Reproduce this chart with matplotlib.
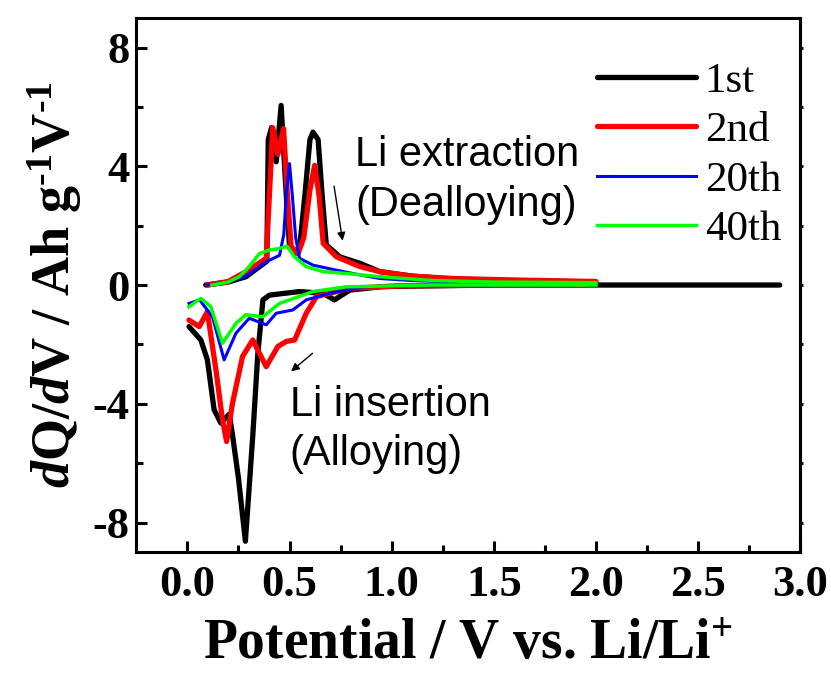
import matplotlib
matplotlib.use("Agg")
import matplotlib.pyplot as plt

plt.rcParams['axes.unicode_minus'] = False
plt.rcParams['mathtext.fontset'] = 'custom'
plt.rcParams['mathtext.rm'] = 'Liberation Serif:bold'
plt.rcParams['mathtext.bf'] = 'Liberation Serif:bold'
plt.rcParams['mathtext.it'] = 'Liberation Serif:italic:bold'

# charge (Li extraction) branches
x1_chg = [0.09, 0.20, 0.287, 0.353, 0.389, 0.396, 0.412, 0.435, 0.459, 0.48, 0.50, 0.525, 0.55, 0.575, 0.60,
          0.615, 0.64, 0.66, 0.68, 0.746, 0.845, 0.943, 1.1, 1.3, 1.6, 2.0]
y1_chg = [0.0, 0.1, 0.28, 0.62, 0.8, 4.9, 5.3, 4.15, 6.05, 3.5, 1.3, 1.05, 1.3, 3.0, 4.9,
          5.15, 4.9, 3.0, 1.35, 0.95, 0.73, 0.45, 0.3, 0.2, 0.15, 0.1]
x2_chg = [0.10, 0.20, 0.287, 0.353, 0.386, 0.405, 0.418, 0.443, 0.471, 0.49, 0.508, 0.542, 0.57, 0.60,
          0.623, 0.645, 0.665, 0.73, 0.845, 0.943, 1.1, 1.3, 1.6, 2.0]
y2_chg = [0.0, 0.12, 0.45, 0.75, 0.9, 3.5, 5.3, 4.4, 5.27, 3.0, 1.3, 1.06, 1.6, 3.2,
          4.03, 3.0, 1.4, 0.95, 0.62, 0.45, 0.3, 0.22, 0.17, 0.12]
x20_chg = [0.10, 0.20, 0.287, 0.386, 0.451, 0.472, 0.486, 0.50, 0.514, 0.53, 0.549, 0.615, 0.73, 0.845,
           0.943, 1.1, 1.4, 1.9]
y20_chg = [0.0, 0.1, 0.3, 0.78, 1.0, 1.7, 3.2, 4.09, 3.0, 1.6, 0.9, 0.67, 0.5, 0.34,
           0.22, 0.15, 0.08, 0.05]
x40_chg = [0.12, 0.20, 0.254, 0.30, 0.353, 0.402, 0.451, 0.487, 0.525, 0.582, 0.664, 0.779, 0.943, 1.2, 1.5, 2.0]
y40_chg = [0.0, 0.1, 0.28, 0.6, 1.06, 1.18, 1.23, 1.31, 0.95, 0.62, 0.45, 0.39, 0.28, 0.15, 0.1, 0.08]

# discharge (Li insertion) branches
x1_dis = [0.008, 0.066, 0.098, 0.131, 0.164, 0.205, 0.22, 0.25, 0.284, 0.32, 0.345, 0.37, 0.402, 0.549,
          0.664, 0.72, 0.795, 0.96, 1.5, 2.0, 2.9]
y1_dis = [-1.4, -1.85, -2.52, -4.2, -4.65, -4.35, -5.0, -6.5, -8.63, -5.1, -2.3, -0.5, -0.34, -0.22,
          -0.28, -0.5, -0.17, -0.05, 0.0, 0.0, 0.0]
x2_dis = [0.008, 0.058, 0.098, 0.14, 0.172, 0.192, 0.221, 0.27, 0.32, 0.386, 0.443, 0.484, 0.525, 0.582,
          0.632, 0.795, 1.04, 1.5, 1.95]
y2_dis = [-1.18, -1.4, -0.9, -2.86, -4.54, -5.27, -3.98, -2.41, -1.85, -2.75, -2.07, -1.9, -1.85, -0.95,
          -0.39, -0.11, -0.03, 0.0, 0.0]
x20_dis = [0.008, 0.06, 0.123, 0.18, 0.238, 0.303, 0.386, 0.435, 0.516, 0.582, 0.697, 0.86, 1.2, 1.9]
y20_dis = [-0.62, -0.5, -1.07, -2.52, -1.62, -1.12, -1.34, -0.95, -0.84, -0.5, -0.28, -0.06, 0.0, 0.0]
x40_dis = [0.008, 0.066, 0.115, 0.172, 0.238, 0.287, 0.369, 0.451, 0.615, 0.779, 1.2, 2.0]
y40_dis = [-0.73, -0.45, -0.73, -1.96, -1.29, -1.0, -1.07, -0.62, -0.22, -0.06, 0.0, 0.0]

labels = ['1st', '2nd', '20th', '40th']
xticks = [0.0, 0.5, 1.0, 1.5, 2.0, 2.5, 3.0]
yticks = [-8, -4, 0, 4, 8]

fig = plt.figure(figsize=(8.31, 6.86), dpi=100)
ax = fig.add_axes([0.164, 0.195, 0.799, 0.779])

# black / red / blue / green cycles
ax.plot(x1_dis, y1_dis, color='black', lw=3.8, solid_capstyle='round', solid_joinstyle='round')
ax.plot(x1_chg, y1_chg, color='black', lw=3.8, label=labels[0], solid_capstyle='round', solid_joinstyle='round')
ax.plot(x2_dis, y2_dis, color='#ff0000', lw=3.8, solid_capstyle='round', solid_joinstyle='round')
ax.plot(x2_chg, y2_chg, color='#ff0000', lw=3.8, label=labels[1], solid_capstyle='round', solid_joinstyle='round')
ax.plot(x20_dis, y20_dis, color='#0000ff', lw=2.2, solid_joinstyle='round')
ax.plot(x20_chg, y20_chg, color='#0000ff', lw=2.2, label=labels[2], solid_joinstyle='round')
ax.plot(x40_dis, y40_dis, color='#00ff00', lw=2.5, solid_joinstyle='round')
ax.plot(x40_chg, y40_chg, color='#00ff00', lw=2.5, label=labels[3], solid_joinstyle='round')

ax.set_xlim(-0.25, 3.0)
ax.set_ylim(-9, 9)
ax.set_xticks(xticks)
ax.set_xticklabels([f"{t:.1f}" for t in xticks])
ax.set_yticks(yticks)
ax.set_yticklabels([str(t) for t in yticks])
ax.set_xticks([0.25, 0.75, 1.25, 1.75, 2.25, 2.75], minor=True)
ax.set_yticks([-6, -2, 2, 6], minor=True)

for s in ax.spines.values():
    s.set_linewidth(2.2)
ax.tick_params(which='major', direction='in', length=8, width=2.2, top=False, right=False)
ax.tick_params(which='minor', direction='in', length=5, width=2.2, top=False, right=False)
for lab in ax.get_xticklabels() + ax.get_yticklabels():
    lab.set_fontfamily('Liberation Serif')
    lab.set_fontweight('bold')
    lab.set_fontsize(32)
ax.tick_params(axis='x', pad=9)
ax.tick_params(axis='y', pad=5)

# tiny marks on the right spine
sec = ax.secondary_yaxis('right')
sec.set_yticks([-8, -6, -4, -2, 0, 2, 4, 6, 8])
sec.tick_params(direction='out', length=2.5, width=2, labelright=False)
sec.spines['right'].set_linewidth(2.2)

ax.set_xlabel(r'Potential / V vs. Li/Li$^{+}$', fontfamily='Liberation Serif', fontweight='bold',
              fontsize=40, labelpad=10)
ax.set_ylabel(r'$d$Q/$d$V / Ah g$^{\text{-}1}$V$^{\text{-}1}$', fontfamily='Liberation Serif',
              fontweight='bold', fontsize=39, labelpad=6)

ax.text(0.82, 4.37, 'Li extraction', fontfamily='Liberation Sans', fontsize=30, va='center', ha='left')
ax.text(0.82, 2.7, '(Dealloying)', fontfamily='Liberation Sans', fontsize=30, va='center', ha='left')
ax.text(0.50, -4.03, 'Li insertion', fontfamily='Liberation Sans', fontsize=30, va='center', ha='left')
ax.text(0.50, -5.7, '(Alloying)', fontfamily='Liberation Sans', fontsize=30, va='center', ha='left')

ax.annotate('', xy=(0.762, 1.4), xytext=(0.716, 3.42),
            arrowprops=dict(arrowstyle='-|>', color='black', lw=1.0, mutation_scale=12))
ax.annotate('', xy=(0.497, -2.97), xytext=(0.623, -2.24),
            arrowprops=dict(arrowstyle='-|>', color='black', lw=1.0, mutation_scale=12))

leg = ax.legend(loc='upper left', bbox_to_anchor=(0.694, 0.918), frameon=False, borderpad=0,
                borderaxespad=0, handlelength=2.3, handletextpad=0.2, labelspacing=0.24,
                prop={'family': 'Liberation Serif', 'size': 31})

fig.savefig('out.png', dpi=100)
